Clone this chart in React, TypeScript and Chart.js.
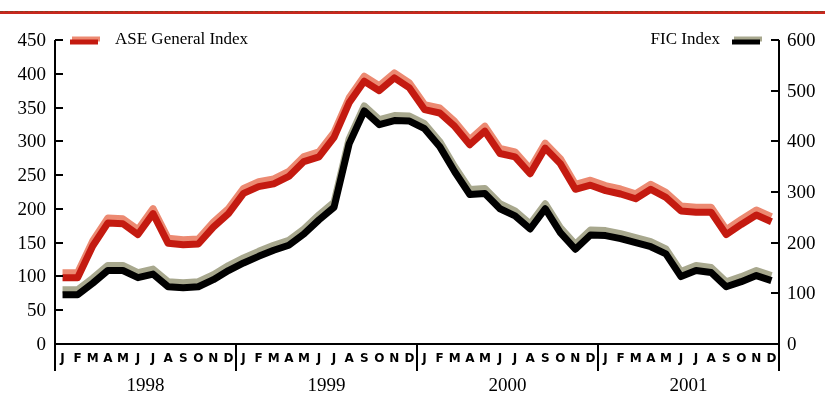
import React, { useEffect, useRef } from "react";
import { Chart, registerables } from "chart.js";

Chart.register(...registerables);

const MONTH_LETTERS = ["J", "F", "M", "A", "M", "J", "J", "A", "S", "O", "N", "D"];
const YEARS = ["1998", "1999", "2000", "2001"];

// ASE General Index (left axis), monthly Jan 1998 – Dec 2001
const ASE = [
  98, 98, 145, 179, 178, 162, 193, 149, 147, 148, 173, 193,
  223, 233, 237, 248, 270, 277, 306, 357, 389, 375, 394, 379,
  347, 342, 322, 295, 315, 282, 277, 252, 290, 267, 229, 235,
  227, 222, 215, 229, 217, 197, 195, 195, 162, 177, 191, 181,
];

// FIC Index (right axis)
const FIC = [
  97, 97, 120, 145, 145, 131, 138, 113, 111, 113, 127, 145,
  160, 173, 185, 195, 217, 245, 270, 395, 460, 433, 441, 440,
  425, 390, 340, 295, 297, 267, 253, 227, 267, 220, 187, 215,
  214, 208, 200, 192, 178, 133, 145, 141, 113, 123, 135, 125,
];

const LEFT_MAX = 450;
const LEFT_STEP = 50;
const RIGHT_MAX = 600;
const RIGHT_STEP = 100;

const SERIES_NAMES = ["ASE General Index", "FIC Index"];

export default function App() {
  const ref = useRef<HTMLCanvasElement>(null);

  useEffect(() => {
    const canvas = ref.current!;
    const LINE_W = 7;
    const HL_OFF = -5;

    const bevel = {
      id: "bevel",
      beforeDatasetDraw(chart: any, args: any) {
        const ds: any = chart.data.datasets[args.index];
        const ctx = chart.ctx;
        ctx.save();
        ctx.shadowColor = ds.highlightColor;
        ctx.shadowOffsetX = 0;
        ctx.shadowOffsetY = HL_OFF;
        ctx.shadowBlur = 0;
      },
      afterDatasetDraw(chart: any) {
        chart.ctx.restore();
      },
    };

    const decor = {
      id: "decor",
      afterDraw(chart: any) {
        const ctx: CanvasRenderingContext2D = chart.ctx;
        const { left, right, top, bottom } = chart.chartArea;
        const x = chart.scales.x;
        const yL = chart.scales.yL;
        const yR = chart.scales.yR;
        ctx.save();

        // top rule
        ctx.fillStyle = "#c8281e";
        ctx.fillRect(0, 11, 825, 3);
        ctx.strokeStyle = "#8a3c22";
        ctx.lineWidth = 1;
        ctx.setLineDash([3, 2]);
        ctx.beginPath();
        ctx.moveTo(0, 11.5);
        ctx.lineTo(825, 11.5);
        ctx.stroke();
        ctx.setLineDash([]);

        // axes
        ctx.strokeStyle = "#000";
        ctx.lineWidth = 2;
        const sepBottom = bottom + 27;
        ctx.beginPath();
        ctx.moveTo(left, top);
        ctx.lineTo(left, sepBottom);
        ctx.moveTo(right, top);
        ctx.lineTo(right, sepBottom);
        ctx.moveTo(left, bottom);
        ctx.lineTo(right, bottom);
        for (let y = 1; y < YEARS.length; y++) {
          const px = Math.round(x.getPixelForValue(y * 12));
          ctx.moveTo(px, bottom);
          ctx.lineTo(px, sepBottom);
        }
        ctx.stroke();

        // ticks + labels
        ctx.fillStyle = "#000";
        ctx.font = '19px "Liberation Serif", serif';
        ctx.textBaseline = "middle";
        ctx.lineWidth = 2;
        ctx.beginPath();
        for (let v = 0; v <= LEFT_MAX; v += LEFT_STEP) {
          const py = Math.round(yL.getPixelForValue(v));
          if (v > 0) {
            ctx.moveTo(left, py);
            ctx.lineTo(left + 8, py);
          }
          ctx.textAlign = "right";
          ctx.fillText(String(v), left - 9, py + 1);
        }
        for (let v = 0; v <= RIGHT_MAX; v += RIGHT_STEP) {
          const py = Math.round(yR.getPixelForValue(v));
          if (v > 0) {
            ctx.moveTo(right, py);
            ctx.lineTo(right - 8, py);
          }
          ctx.textAlign = "left";
          ctx.fillText(String(v), right + 8, py + 1);
        }
        ctx.stroke();

        // month letters and years
        const monthFont = 'bold 12px "DejaVu Sans", sans-serif';
        const yearFont = '19px "Liberation Serif", serif';
        ctx.textAlign = "center";
        for (let yi = 0; yi < YEARS.length; yi++) {
          ctx.font = monthFont;
          for (let m = 0; m < 12; m++) {
            const px = x.getPixelForValue(yi * 12 + m + 0.5);
            ctx.fillText(MONTH_LETTERS[m], px, bottom + 15);
          }
          ctx.font = yearFont;
          const cx = x.getPixelForValue(yi * 12 + 6);
          ctx.fillText(YEARS[yi], cx, bottom + 42);
        }

        // legend
        const swatch = (x0: number, x1: number, y: number, c: string, h: string) => {
          ctx.save();
          ctx.lineCap = "butt";
          ctx.lineWidth = 5;
          ctx.strokeStyle = h;
          ctx.beginPath();
          ctx.moveTo(x0 + 2, y - 3);
          ctx.lineTo(x1 + 2, y - 3);
          ctx.stroke();
          ctx.strokeStyle = c;
          ctx.beginPath();
          ctx.moveTo(x0, y);
          ctx.lineTo(x1, y);
          ctx.stroke();
          ctx.restore();
        };
        swatch(70, 98, 42, "#c41a10", "#ec8a72");
        swatch(732, 760, 42, "#000000", "#a8a88e");
        ctx.font = '17px "Liberation Serif", serif';
        ctx.textAlign = "left";
        ctx.fillText(SERIES_NAMES[0], 115, 40);
        ctx.textAlign = "right";
        ctx.fillText(SERIES_NAMES[1], 720, 40);

        ctx.restore();
      },
    };

    const chart = new Chart(canvas, {
      type: "line",
      data: {
        datasets: [
          {
            label: SERIES_NAMES[0],
            data: ASE.map((v, i) => ({ x: i + 0.5, y: v })),
            yAxisID: "yL",
            borderColor: "#c41a10",
            highlightColor: "#ec8a72",
            borderWidth: LINE_W,
            pointRadius: 0,
            tension: 0,
            borderJoinStyle: "round",
            borderCapStyle: "butt",
            clip: false,
          } as any,
          {
            label: SERIES_NAMES[1],
            data: FIC.map((v, i) => ({ x: i + 0.5, y: v })),
            yAxisID: "yR",
            borderColor: "#000000",
            highlightColor: "#a8a88e",
            borderWidth: LINE_W,
            pointRadius: 0,
            tension: 0,
            borderJoinStyle: "round",
            borderCapStyle: "butt",
            clip: false,
          } as any,
        ],
      },
      options: {
        responsive: false,
        animation: false,
        layout: { padding: { top: 40, bottom: 54, left: 0, right: 0 } },
        plugins: { legend: { display: false }, tooltip: { enabled: false } },
        scales: {
          x: {
            type: "linear",
            min: 0,
            max: 48,
            display: false,
          },
          yL: {
            position: "left",
            min: 0,
            max: LEFT_MAX,
            ticks: { display: false, stepSize: LEFT_STEP },
            grid: { display: false },
            border: { display: false },
            afterFit: (s: any) => {
              s.width = 55;
            },
          },
          yR: {
            position: "right",
            min: 0,
            max: RIGHT_MAX,
            ticks: { display: false, stepSize: RIGHT_STEP },
            grid: { display: false },
            border: { display: false },
            afterFit: (s: any) => {
              s.width = 46;
            },
          },
        },
      } as any,
      plugins: [bevel, decor],
    });
    return () => chart.destroy();
  }, []);

  return (
    <div style={{ position: "absolute", left: 0, top: 0, width: 825, height: 398, background: "#fff" }}>
      <canvas ref={ref} width={825} height={398} style={{ display: "block" }} />
    </div>
  );
}
